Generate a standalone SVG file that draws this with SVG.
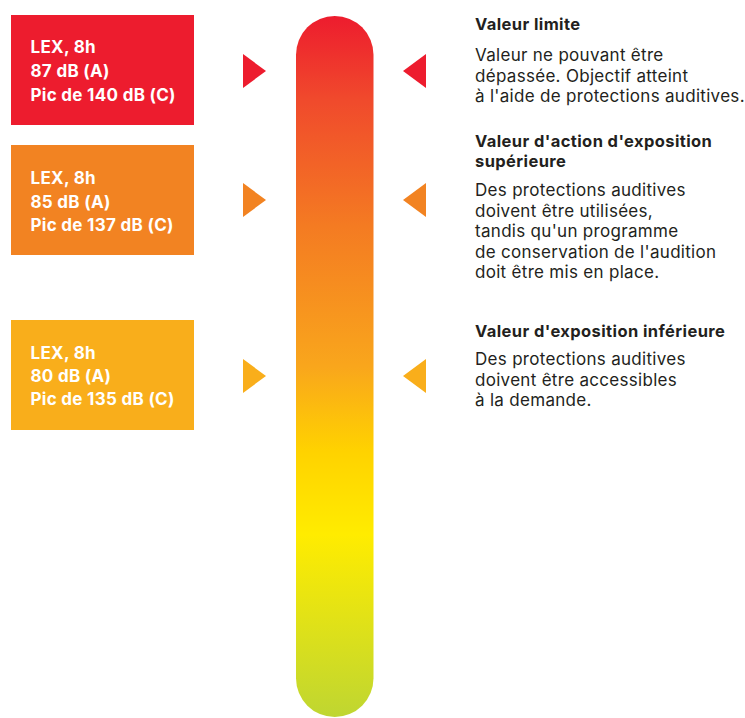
<svg xmlns="http://www.w3.org/2000/svg" width="745" height="718" viewBox="0 0 745 718">
<defs>
<linearGradient id="barGrad" x1="0" y1="16" x2="0" y2="717" gradientUnits="userSpaceOnUse">
<stop offset="0" stop-color="#ED1C2E"/>
<stop offset="0.12" stop-color="#F04A2C"/>
<stop offset="0.3" stop-color="#F47B22"/>
<stop offset="0.5" stop-color="#F9A61C"/>
<stop offset="0.62" stop-color="#FFD200"/>
<stop offset="0.74" stop-color="#FFEC00"/>
<stop offset="1" stop-color="#BFD631"/>
</linearGradient>
<style>
.lbl{font-family:Inter,"Open Sans","Liberation Sans",sans-serif;font-weight:700;font-size:17px;letter-spacing:0.3px;fill:#ffffff}
.hd{font-family:Inter,"Open Sans","Liberation Sans",sans-serif;font-weight:700;font-size:16.5px;letter-spacing:0.4px;fill:#231F20}
.bd{font-family:Inter,"Open Sans","Liberation Sans",sans-serif;font-weight:400;font-size:17px;letter-spacing:0.3px;fill:#231F20}
.red{fill:#ED1C2E}
.org{fill:#F28322}
.yel{fill:#F9AE1B}
</style>
</defs>
<rect width="745" height="718" fill="#ffffff"/>
<g id="bar">
<rect x="296" y="16" width="77.5" height="701" rx="38.75" ry="38.75" fill="url(#barGrad)"/>
</g>
<g id="box-limite">
<rect class="red" x="11" y="15" width="183" height="110"/>
<text class="lbl" x="30.5" y="53">LEX, 8h</text>
<text class="lbl" x="30.5" y="77">87 dB (A)</text>
<text class="lbl" x="30.5" y="100.5">Pic de 140 dB (C)</text>
</g>
<g id="box-superieure">
<rect class="org" x="11" y="145" width="183" height="110"/>
<text class="lbl" x="30.5" y="183.5">LEX, 8h</text>
<text class="lbl" x="30.5" y="207.5">85 dB (A)</text>
<text class="lbl" x="30.5" y="231">Pic de 137 dB (C)</text>
</g>
<g id="box-inferieure">
<rect class="yel" x="11" y="320" width="183" height="110"/>
<text class="lbl" x="30.5" y="358.5">LEX, 8h</text>
<text class="lbl" x="30.5" y="382">80 dB (A)</text>
<text class="lbl" x="30.5" y="405">Pic de 135 dB (C)</text>
</g>
<g id="connectors">
<polygon class="red" points="243,54 243,88 266,71"/>
<polygon class="red" points="426,54 426,88 403,71"/>
<polygon class="org" points="243,183 243,217 266,200"/>
<polygon class="org" points="426,183 426,217 403,200"/>
<polygon class="yel" points="243,359 243,393 266,376"/>
<polygon class="yel" points="426,359 426,393 403,376"/>
</g>
<g id="desc-limite">
<text class="hd" x="475" y="30">Valeur limite</text>
<text class="bd" x="475" y="61">Valeur ne pouvant être</text>
<text class="bd" x="475" y="81.5">dépassée. Objectif atteint</text>
<text class="bd" x="475" y="102">à l'aide de protections auditives.</text>
</g>
<g id="desc-superieure">
<text class="hd" x="475" y="146.5">Valeur d'action d'exposition</text>
<text class="hd" x="475" y="166.5">supérieure</text>
<text class="bd" x="475" y="196">Des protections auditives</text>
<text class="bd" x="475" y="216.5">doivent être utilisées,</text>
<text class="bd" x="475" y="237">tandis qu'un programme</text>
<text class="bd" x="475" y="257.5">de conservation de l'audition</text>
<text class="bd" x="475" y="278">doit être mis en place.</text>
</g>
<g id="desc-inferieure">
<text class="hd" x="475" y="336.5">Valeur d'exposition inférieure</text>
<text class="bd" x="475" y="365">Des protections auditives</text>
<text class="bd" x="475" y="385.5">doivent être accessibles</text>
<text class="bd" x="475" y="406">à la demande.</text>
</g>
</svg>
